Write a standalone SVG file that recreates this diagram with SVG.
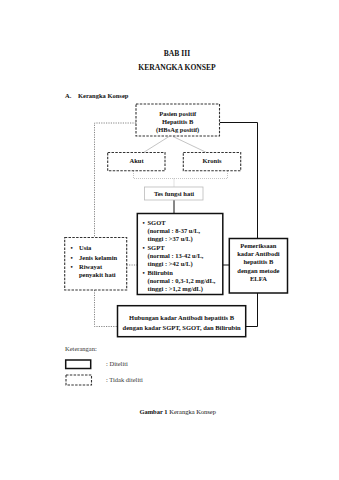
<svg xmlns="http://www.w3.org/2000/svg" width="339" height="480" viewBox="0 0 339 480">
<style>
text{font-family:"Liberation Serif","Times New Roman",serif;fill:#111;}
.b{font-weight:bold;font-size:6.5px;}
.c{text-anchor:middle;}
.r{font-size:6.5px;fill:#333;}
.t{font-weight:bold;font-size:7.6px;text-anchor:middle;}
.dash{fill:#fff;stroke:#333;stroke-width:1.1;stroke-dasharray:2.5,1.3;}
.solid{fill:#fff;stroke:#111;stroke-width:1.5;}
.light{fill:#fff;stroke:#bbb;stroke-width:0.8;}
.grey{fill:none;stroke:#aaa;stroke-width:0.7;}
.gdot{fill:none;stroke:#aaa;stroke-width:0.7;stroke-dasharray:1,1;}
.dot{fill:none;stroke:#666;stroke-width:0.8;stroke-dasharray:1.2,1.2;}
.line{fill:none;stroke:#111;stroke-width:1;}
</style>
<rect width="339" height="480" fill="#fff"/>
<text class="t" x="177" y="55.5">BAB III</text>
<text class="t" x="177" y="69.5">KERANGKA KONSEP</text>
<text class="b" x="65" y="98">A.</text>
<text class="b" x="78" y="98">Kerangka Konsep</text>

<g id="connectors">
  <path class="grey" d="M169,136.5 L143.5,152.5 M173,136.5 L206.5,152.5"/>
  <path class="gdot" d="M133.5,171 V178.5 H227.5 V171 M174,178.5 V187"/>
  <path class="line" d="M174,200 V213.5"/>
  <path class="dot" d="M136,123 H94.5 V237.5 M94.5,290 V326.5 H117.5"/>
  <path class="dot" d="M126.7,265 H137.3"/>
  <path class="line" d="M219.5,122.5 H257.5 V238.5 M257.5,293 V326.5 H245.7"/>
  <path class="line" d="M223,265 H229.3"/>
</g>

<g id="pasien">
  <rect class="dash" x="136" y="104" width="83.5" height="32"/>
  <text class="b c" x="177.7" y="115.5">Pasien positif</text>
  <text class="b c" x="177.7" y="123.5">Hepatitis B</text>
  <text class="b c" x="177.7" y="131.5">(HBsAg positif)</text>
</g>
<g id="akut">
  <rect class="dash" x="107.7" y="152.5" width="57.3" height="18.3"/>
  <text class="b c" x="136.5" y="163.3">Akut</text>
</g>
<g id="kronis">
  <rect class="dash" x="183.3" y="152.5" width="57.4" height="18.3"/>
  <text class="b c" x="212" y="163.3">Kronis</text>
</g>
<g id="tes">
  <rect class="light" x="144.5" y="187" width="58.5" height="13"/>
  <text class="b c" x="174" y="195.8">Tes fungsi hati</text>
</g>
<g id="sgot">
  <rect class="solid" x="137.3" y="213.5" width="85.5" height="81"/>
  <text class="b" x="142.5" y="224.5">•</text>
  <text class="b" x="147.5" y="224.5">SGOT</text>
  <text class="b" x="147.5" y="232.5">(normal : 8-37 u/L,</text>
  <text class="b" x="147.5" y="240.5">tinggi : &gt;37 u/L)</text>
  <text class="b" x="142.5" y="249.5">•</text>
  <text class="b" x="147.5" y="249.5">SGPT</text>
  <text class="b" x="147.5" y="257.5">(normal : 13-42 u/L,</text>
  <text class="b" x="147.5" y="265.5">tinggi : &gt;42 u/L)</text>
  <text class="b" x="142.5" y="274.5">•</text>
  <text class="b" x="147.5" y="274.5">Bilirubin</text>
  <text class="b" x="147.5" y="282.5">(normal : 0,3-1,2 mg/dL,</text>
  <text class="b" x="147.5" y="290.5">tinggi : &gt;1,2 mg/dL)</text>
</g>
<g id="usia">
  <rect class="dash" x="64.7" y="237.5" width="62" height="52.5"/>
  <text class="b" x="70.5" y="249.6">•</text>
  <text class="b" x="79" y="249.6">Usia</text>
  <text class="b" x="70.5" y="260">•</text>
  <text class="b" x="79" y="260">Jenis kelamin</text>
  <text class="b" x="70.5" y="269">•</text>
  <text class="b" x="79" y="269">Riwayat</text>
  <text class="b" x="79" y="277.3">penyakit hati</text>
</g>
<g id="pemeriksaan">
  <rect class="solid" x="229.3" y="238.5" width="58.2" height="54.5"/>
  <text class="b c" x="258.4" y="248">Pemeriksaan</text>
  <text class="b c" x="258.4" y="256.3">kadar Antibodi</text>
  <text class="b c" x="258.4" y="264.3">hepatitis B</text>
  <text class="b c" x="258.4" y="272.5">dengan metode</text>
  <text class="b c" x="258.4" y="280.7">ELFA</text>
</g>
<g id="hubungan">
  <rect class="solid" x="117.5" y="305.7" width="128.2" height="31"/>
  <text class="b c" x="181.6" y="319.6">Hubungan kadar Antibodi hepatitis B</text>
  <text class="b c" x="181.6" y="329.6">dengan kadar SGPT, SGOT, dan Bilirubin</text>
</g>

<g id="legend">
  <text class="r" x="65" y="350.5">Keterangan:</text>
  <rect class="solid" x="65.7" y="360" width="25" height="8.5"/>
  <text class="r" x="106" y="365.5">: Diteliti</text>
  <rect class="dash" x="66" y="375" width="25.5" height="10"/>
  <text class="r" x="106" y="382.3">: Tidak diteliti</text>
</g>
<text x="177.7" y="414" style="font-size:6.5px;text-anchor:middle"><tspan font-weight="bold">Gambar 1</tspan> Kerangka Konsep</text>
</svg>
